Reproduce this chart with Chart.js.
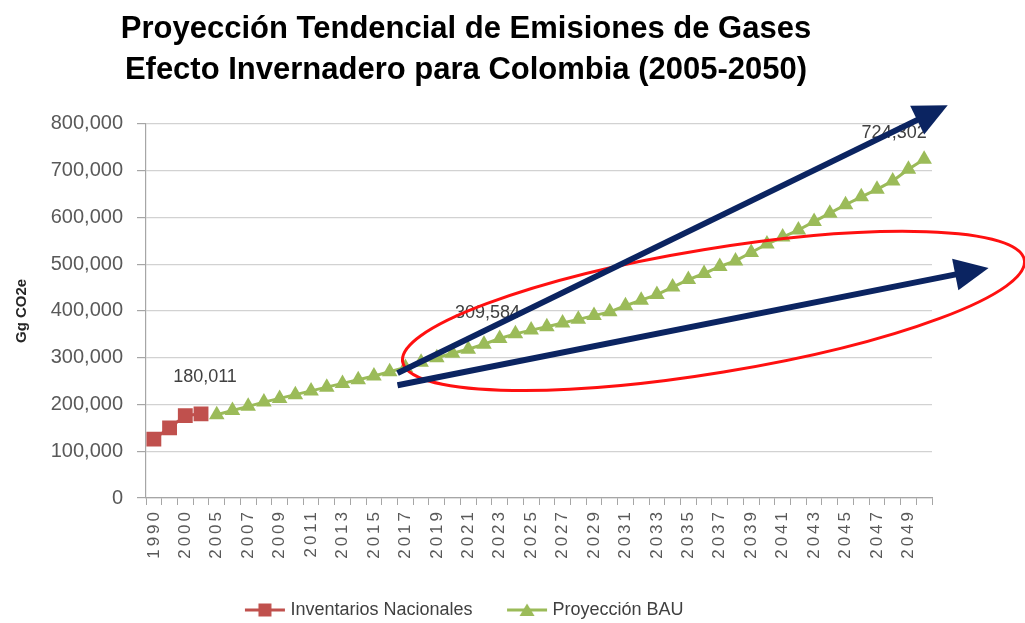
<!DOCTYPE html>
<html lang="es">
<head>
<meta charset="utf-8">
<title>Proyección Tendencial de Emisiones de GEI - Colombia</title>
<script src="https://cdn.jsdelivr.net/npm/chart.js@4.4.1/dist/chart.umd.min.js"></script>
<style>
  html, body { margin: 0; padding: 0; background: #fff; }
</style>
</head>
<body>
<canvas id="emisiones" width="1025" height="623"></canvas>
<script>
(function () {
  "use strict";

  // category axis: inventory years, then the 2005-2050 projection
  var years = [
    "1990", "1994", "2000", "2004",
    "2005", "2006", "2007", "2008", "2009", "2010", "2011", "2012", "2013", "2014",
    "2015", "2016", "2017", "2018", "2019", "2020", "2021", "2022", "2023", "2024",
    "2025", "2026", "2027", "2028", "2029", "2030", "2031", "2032", "2033", "2034",
    "2035", "2036", "2037", "2038", "2039", "2040", "2041", "2042", "2043", "2044",
    "2045", "2046", "2047", "2048", "2049", "2050"
  ];

  // Gg CO2e, national inventories 1990 / 1994 / 2000 / 2004
  var inventarios = [126000, 150000, 176000, 180011];

  // Gg CO2e, BAU projection 2005..2050
  var proyeccion = [
    178000, 187000, 196000, 205000, 213000, 221000, 229000, 237000, 245000, 253000,
    261000, 270000, 279000, 290000, 300000, 309584, 318000, 329000, 341000, 351000,
    359000, 366000, 374000, 382000, 390000, 398000, 411000, 423000, 435000, 451000,
    467000, 480000, 495000, 507000, 525000, 543000, 558000, 573000, 591000, 609000,
    627000, 644000, 660000, 678000, 703000, 724302
  ];

  var yTicks = [0, 100000, 200000, 300000, 400000, 500000, 600000, 700000, 800000];

  var RED = "#c0504d";
  var GREEN = "#9bbb59";
  var NAVY = "#0b2461";
  var FONT = '"Liberation Sans", Arial, sans-serif';

  // value labels: which point, and how far the text sits from it
  var valueLabels = [
    { ds: 0, idx: 3, dx: 4, dy: -37 },
    { ds: 1, idx: 19, dx: 35, dy: -40 },
    { ds: 1, idx: 49, dx: -30, dy: -26 }
  ];

  // hand-drawn trend arrows and the highlight ellipse, in axis units
  var arrows = [
    { from: [15.5, 267000], to: [50.5, 840000] },
    { from: [15.5, 241000], to: [53.1, 492000] }
  ];
  var ellipse = { at: [35.6, 400000], rx: 315, ry: 62, angle: -9.3 };

  function fmt(v) {
    return v.toLocaleString("en-US");
  }

  var projData = [null, null, null, null].concat(proyeccion);

  function legendIcon(color, shape) {
    var c = document.createElement("canvas");
    c.width = 42;
    c.height = 16;
    var g = c.getContext("2d");
    g.strokeStyle = color;
    g.lineWidth = 3;
    g.beginPath();
    g.moveTo(1, 8);
    g.lineTo(41, 8);
    g.stroke();
    g.fillStyle = color;
    g.beginPath();
    if (shape === "rect") {
      g.rect(14.5, 1.5, 13, 13);
    } else {
      g.moveTo(21, 1.5);
      g.lineTo(28.5, 14);
      g.lineTo(13.5, 14);
      g.closePath();
    }
    g.fill();
    return c;
  }
  var icons = [legendIcon(RED, "rect"), legendIcon(GREEN, "triangle")];

  // x labels drawn by hand so they can get some letter spacing
  var spacedXLabels = {
    id: "spacedXLabels",
    afterDraw: function (chart) {
      var xs = chart.scales.x;
      var ctx = chart.ctx;
      ctx.save();
      ctx.font = "17px " + FONT;
      ctx.fillStyle = "#595959";
      ctx.letterSpacing = "3px";
      ctx.textAlign = "right";
      ctx.textBaseline = "middle";
      xs.ticks.forEach(function (t, i) {
        if (!t.label) return;
        ctx.save();
        ctx.translate(xs.getPixelForTick(i), xs.top + 14);
        ctx.rotate(-Math.PI / 2);
        ctx.fillText(t.label, 3, 0);
        ctx.restore();
      });
      ctx.restore();
    }
  };

  var pointValues = {
    id: "pointValues",
    afterDatasetsDraw: function (chart) {
      var ctx = chart.ctx;
      ctx.save();
      ctx.font = "18px " + FONT;
      ctx.fillStyle = "#404040";
      ctx.textAlign = "center";
      ctx.textBaseline = "middle";
      valueLabels.forEach(function (l) {
        var pt = chart.getDatasetMeta(l.ds).data[l.idx];
        var v = chart.data.datasets[l.ds].data[l.idx];
        ctx.fillText(fmt(v), pt.x + l.dx, pt.y + l.dy);
      });
      ctx.restore();
    }
  };

  var trendMarks = {
    id: "trendMarks",
    afterDraw: function (chart) {
      var xs = chart.scales.x;
      var ys = chart.scales.y;
      var ctx = chart.ctx;
      function px(p) {
        return [xs.getPixelForValue(p[0]), ys.getPixelForValue(p[1])];
      }
      ctx.save();

      ctx.strokeStyle = "#ff1010";
      ctx.lineWidth = 3;
      var c = px(ellipse.at);
      ctx.beginPath();
      ctx.ellipse(c[0], c[1], ellipse.rx, ellipse.ry, ellipse.angle * Math.PI / 180, 0, Math.PI * 2);
      ctx.stroke();

      ctx.strokeStyle = NAVY;
      ctx.fillStyle = NAVY;
      ctx.lineWidth = 6;
      arrows.forEach(function (a) {
        var s = px(a.from);
        var e = px(a.to);
        var ang = Math.atan2(e[1] - s[1], e[0] - s[0]);
        var head = 34;
        var half = 16;
        var bx = e[0] - Math.cos(ang) * head;
        var by = e[1] - Math.sin(ang) * head;
        ctx.beginPath();
        ctx.moveTo(s[0], s[1]);
        ctx.lineTo(bx + Math.cos(ang) * 2, by + Math.sin(ang) * 2);
        ctx.stroke();
        ctx.beginPath();
        ctx.moveTo(e[0], e[1]);
        ctx.lineTo(bx - Math.sin(ang) * half, by + Math.cos(ang) * half);
        ctx.lineTo(bx + Math.sin(ang) * half, by - Math.cos(ang) * half);
        ctx.closePath();
        ctx.fill();
      });
      ctx.restore();
    }
  };

  Chart.defaults.font.family = FONT;

  new Chart(document.getElementById("emisiones"), {
    type: "line",
    data: {
      labels: years,
      datasets: [
        {
          label: "Inventarios Nacionales",
          data: inventarios,
          borderColor: RED,
          backgroundColor: RED,
          borderWidth: 3,
          pointStyle: "rect",
          pointRadius: 10.5,
          pointBorderWidth: 0,
          tension: 0
        },
        {
          label: "Proyección BAU",
          data: projData,
          borderColor: GREEN,
          backgroundColor: GREEN,
          borderWidth: 3,
          pointStyle: "triangle",
          pointRadius: 9,
          pointBorderWidth: 0,
          tension: 0
        }
      ]
    },
    plugins: [pointValues, spacedXLabels, trendMarks],
    options: {
      responsive: false,
      animation: false,
      events: [],
      layout: { padding: { left: 0, right: 93, top: 0, bottom: -6 } },
      plugins: {
        tooltip: { enabled: false },
        title: {
          display: true,
          text: [
            "Proyección Tendencial de Emisiones de Gases",
            "Efecto Invernadero para Colombia (2005-2050)"
          ],
          color: "#000",
          font: { family: '"Liberation Sans Narrow", ' + FONT, size: 31, weight: "bold", lineHeight: 1.32 },
          padding: { top: 9, bottom: 33 }
        },
        legend: {
          position: "bottom",
          labels: {
            usePointStyle: true,
            pointStyleWidth: 33,
            padding: 38,
            color: "#404040",
            font: { size: 18 },
            generateLabels: function (chart) {
              var items = Chart.defaults.plugins.legend.labels.generateLabels(chart);
              items.forEach(function (it, i) {
                it.pointStyle = icons[i];
              });
              return items;
            }
          }
        }
      },
      scales: {
        x: {
          offset: true,
          afterFit: function (s) {
            s.height = 65;
          },
          ticks: {
            autoSkip: false,
            minRotation: 90,
            maxRotation: 90,
            color: "rgba(0,0,0,0)",
            font: { size: 17 },
            callback: function (v, i) {
              return i % 2 === 0 ? years[i] : "";
            }
          },
          grid: { offset: true, drawOnChartArea: false, tickLength: 7, color: "#a6a6a6" },
          border: { color: "#a6a6a6", width: 1.2 }
        },
        y: {
          min: yTicks[0],
          max: yTicks[yTicks.length - 1],
          afterFit: function (s) {
            s.width = 146;
          },
          afterBuildTicks: function (s) {
            s.ticks = yTicks.map(function (v) {
              return { value: v };
            });
          },
          ticks: {
            padding: 14,
            color: "#595959",
            font: { size: 20 },
            callback: function (v) {
              return fmt(v);
            }
          },
          grid: { color: "#d2d2d2", lineWidth: 1.2, tickLength: 9, tickColor: "#a6a6a6" },
          border: { color: "#a6a6a6", width: 1.2 },
          title: {
            display: true,
            text: "Gg CO2e",
            color: "#262626",
            font: { size: 15, weight: "bold" },
            padding: { top: 13, bottom: 0 }
          }
        }
      }
    }
  });
})();
</script>
</body>
</html>
